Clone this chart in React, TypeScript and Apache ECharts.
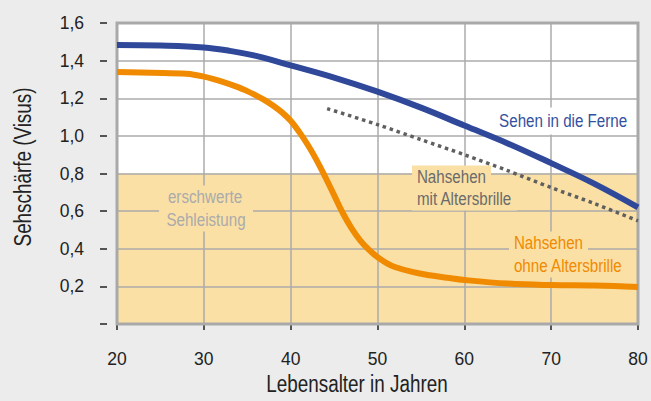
import React, { useEffect, useRef } from "react";
import * as echarts from "echarts";

const xTicks = [20, 30, 40, 50, 60, 70, 80];
const yTickLabels = ["", "0,2", "0,4", "0,6", "0,8", "1,0", "1,2", "1,4", "1,6"];

const fernAges = [20, 25, 30, 33, 36, 40, 45, 50, 55, 60, 65, 70, 75, 80];
const fernValues = [1.483, 1.48, 1.47, 1.452, 1.425, 1.375, 1.31, 1.235, 1.15, 1.055, 0.96, 0.855, 0.745, 0.62];

const ohneAges = [20, 24, 28, 30, 32, 34, 35, 36, 37, 38, 39, 40, 41, 42, 43, 44, 45, 46, 47, 48, 49, 50, 51, 52, 54, 56, 58, 60, 65, 70, 75, 80];
const ohneValues = [1.34, 1.336, 1.33, 1.315, 1.29, 1.258, 1.238, 1.215, 1.19, 1.16, 1.125, 1.08, 1.02, 0.95, 0.87, 0.78, 0.685, 0.59, 0.51, 0.445, 0.395, 0.355, 0.325, 0.303, 0.277, 0.259, 0.246, 0.234, 0.215, 0.207, 0.204, 0.197];

const mitAges = [44.2, 50, 55, 60, 65, 70, 75, 80];
const mitValues = [1.145, 1.06, 0.98, 0.9, 0.815, 0.725, 0.64, 0.548];

const bandAges = [20, 80];
const bandLimit = 0.8;

const FONT = "'Liberation Sans', Arial, sans-serif";
const NARROW = 0.82;
const YELLOW = "#fae0a5";
const GRID = "#ababab";

const pairs = (xs: number[], ys: number[]) => xs.map((x, i) => [x, ys[i]]);

const lineLabel = (
  text: string,
  x: number,
  y: number,
  color: string,
  bg: string,
  align: string,
  pad: number[]
) => ({
  type: "text",
  x,
  y,
  z: 3,
  scaleX: NARROW,
  style: {
    text,
    fill: color,
    fontFamily: FONT,
    fontSize: 18.5,
    lineHeight: 21,
    align,
    verticalAlign: "middle",
    backgroundColor: bg,
    padding: pad,
  },
});

export default function App() {
  const ref = useRef<HTMLDivElement>(null);
  useEffect(() => {
    if (!ref.current) return;
    const chart = echarts.init(ref.current, null, { renderer: "svg" });
    chart.setOption({
      animation: false,
      backgroundColor: "#ebeceb",
      grid: [
        { left: 117, right: 13, top: 23, bottom: 77, show: true, backgroundColor: "#ffffff", borderWidth: 0, z: 0 },
        { left: 117, right: 13, top: 23, bottom: 77, show: true, backgroundColor: "transparent", borderColor: "#a9a9a9", borderWidth: 3, z: 3 },
      ],
      xAxis: [
        {
          type: "value",
          gridIndex: 0,
          min: 20,
          max: 80,
          interval: 10,
          offset: 8,
          z: 2,
          axisLine: { show: false },
          axisTick: { show: true, length: 6, inside: false, lineStyle: { color: "#222", width: 1.5 } },
          axisLabel: {
            margin: 18,
            color: "#222",
            fontFamily: FONT,
            fontSize: 17.5,
            formatter: (v: number) => (xTicks.includes(v) ? String(v) : ""),
          },
          splitLine: { show: true, lineStyle: { color: GRID, width: 1.5 } },
        },
        { type: "value", gridIndex: 1, show: false, min: 20, max: 80 },
      ],
      yAxis: [
        {
          type: "value",
          gridIndex: 0,
          min: 0,
          max: 1.6,
          interval: 0.2,
          offset: 10,
          z: 2,
          axisLine: { show: false },
          axisTick: { show: true, length: 7, inside: false, lineStyle: { color: "#222", width: 1.5 } },
          axisLabel: {
            margin: 23,
            color: "#222",
            fontFamily: FONT,
            fontSize: 17.5,
            formatter: (v: number) => yTickLabels[Math.round(v / 0.2)] ?? "",
          },
          splitLine: { show: true, lineStyle: { color: GRID, width: 1.5 } },
        },
        { type: "value", gridIndex: 1, show: false, min: 0, max: 1.6 },
      ],
      series: [
        {
          type: "line",
          z: 1,
          silent: true,
          symbol: "none",
          data: bandAges.map((a) => [a, bandLimit]),
          lineStyle: { width: 0 },
          areaStyle: { color: YELLOW, opacity: 1 },
        },
        {
          type: "line",
          z: 4,
          symbol: "none",
          smooth: 0.4,
          data: pairs(ohneAges, ohneValues),
          lineStyle: { color: "#f08a00", width: 6 },
        },
        {
          type: "line",
          z: 4,
          symbol: "none",
          smooth: 0.3,
          data: pairs(mitAges, mitValues),
          lineStyle: { color: "#5f5f5f", width: 3.5, type: [3.5, 3.8], cap: "butt" },
        },
        {
          type: "line",
          z: 5,
          symbol: "none",
          smooth: 0.4,
          data: pairs(fernAges, fernValues),
          lineStyle: { color: "#2f4899", width: 6 },
        },
      ],
      graphic: [
        lineLabel("Sehen in die Ferne", 495, 121, "#34509e", "#ffffff", "left", [3, 5]),
        lineLabel("Nahsehen", 412, 177, "#6b6b6b", YELLOW, "left", [1, 6]),
        lineLabel("mit Altersbrille", 412, 199, "#6b6b6b", YELLOW, "left", [1, 6]),
        lineLabel("Nahsehen", 509, 243, "#f08a00", YELLOW, "left", [1, 6]),
        lineLabel("ohne Altersbrille", 509, 266, "#f08a00", YELLOW, "left", [1, 6]),
        lineLabel("erschwerte", 205, 197, "#ababab", YELLOW, "center", [1, 9]),
        lineLabel("Sehleistung", 206, 220, "#ababab", YELLOW, "center", [1, 9]),
        {
          type: "text",
          x: 357,
          y: 384,
          z: 3,
          scaleX: NARROW,
          style: {
            text: "Lebensalter in Jahren",
            fill: "#222",
            fontFamily: FONT,
            fontSize: 23,
            align: "center",
            verticalAlign: "middle",
          },
        },
        {
          type: "text",
          x: 23,
          y: 167,
          z: 3,
          rotation: Math.PI / 2,
          scaleX: NARROW,
          style: {
            text: "Sehschärfe (Visus)",
            fill: "#222",
            fontFamily: FONT,
            fontSize: 23,
            align: "center",
            verticalAlign: "middle",
          },
        },
      ],
    });
    return () => chart.dispose();
  }, []);
  return <div ref={ref} style={{ width: 651, height: 401, position: "absolute", left: 0, top: 0 }} />;
}
